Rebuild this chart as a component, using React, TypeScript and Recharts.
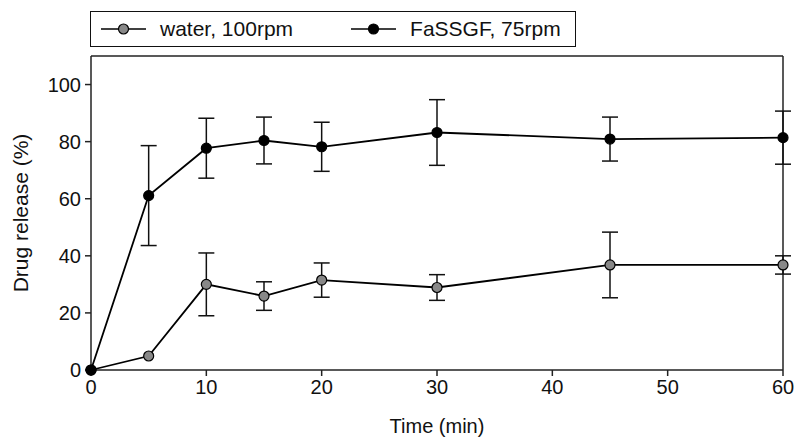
import React from "react"
import {
  LineChart,
  Line,
  XAxis,
  YAxis,
  ErrorBar,
  ReferenceLine,
} from "recharts"

const time = [0, 5, 10, 15, 20, 30, 45, 60]
const water = [0, 4.9, 30, 25.9, 31.5, 28.9, 36.8, 36.8]
const waterErr = [0, 0, 11, 5, 6, 4.5, 11.5, 3.2]
const fassgf = [0, 61.1, 77.7, 80.4, 78.2, 83.2, 80.9, 81.4]
const fassgfErr = [0, 17.5, 10.5, 8.2, 8.6, 11.5, 7.7, 9.3]
const xTicks = [0, 10, 20, 30, 40, 50, 60]
const yTicks = [0, 20, 40, 60, 80, 100]

const data = time.map((t, i) => ({
  time: t,
  water: water[i],
  waterErr: waterErr[i],
  fassgf: fassgf[i],
  fassgfErr: fassgfErr[i],
}))

const FONT = '"Liberation Sans", Arial, sans-serif'
const AXIS = "#222"

const legendItems = [
  { label: "water, 100rpm", fill: "#888" },
  { label: "FaSSGF, 75rpm", fill: "#000" },
]

// legend sits above the plot box, outside the chart layout
const LegendBox = () => (
  <div
    style={{
      position: "absolute",
      left: 90,
      top: 11,
      width: 486,
      height: 36,
      border: "1.5px solid #111",
      display: "flex",
      alignItems: "center",
      boxSizing: "border-box",
      fontFamily: FONT,
      fontSize: 21,
      color: "#111",
    }}
  >
    {legendItems.map((it, i) => (
      <div
        key={it.label}
        style={{
          display: "flex",
          alignItems: "center",
          marginLeft: i === 0 ? 10 : 58,
        }}
      >
        <svg width={45} height={14}>
          <line x1={0} y1={7} x2={45} y2={7} stroke="#000" strokeWidth={1.5} />
          <circle cx={22.5} cy={7} r={5} fill={it.fill} stroke="#000" strokeWidth={1.2} />
        </svg>
        <span style={{ marginLeft: 14 }}>{it.label}</span>
      </div>
    ))}
  </div>
)

export default function App() {
  return (
    <div style={{ position: "absolute", left: 0, top: 0, background: "#fff" }}>
      <LineChart
        width={796}
        height={438}
        data={data}
        margin={{ top: 56, right: 13, left: 0, bottom: 2 }}
      >
        <XAxis
          dataKey="time"
          type="number"
          domain={[0, 60]}
          ticks={xTicks}
          tickSize={6}
          stroke={AXIS}
          strokeWidth={1.5}
          height={66}
          tick={{ fill: "#111", fontSize: 20, fontFamily: FONT }}
          tickMargin={4}
          label={{
            content: ({ viewBox }: any) => (
              <text
                x={viewBox.x + viewBox.width / 2}
                y={viewBox.y + 63}
                textAnchor="middle"
                fontSize={20}
                fontFamily={FONT}
                fill="#111"
              >
                Time (min)
              </text>
            ),
          }}
        />
        <YAxis
          type="number"
          domain={[0, 110]}
          ticks={yTicks}
          tickSize={6}
          width={91}
          stroke={AXIS}
          strokeWidth={1.5}
          tick={{ fill: "#111", fontSize: 20, fontFamily: FONT }}
          tickMargin={4}
          label={{
            content: ({ viewBox }: any) => {
              const cx = 28
              const cy = viewBox.y + viewBox.height / 2
              return (
                <text
                  x={cx}
                  y={cy}
                  transform={`rotate(-90 ${cx} ${cy})`}
                  textAnchor="middle"
                  fontSize={21}
                  fontFamily={FONT}
                  fill="#111"
                >
                  Drug release (%)
                </text>
              )
            },
          }}
        />
        <ReferenceLine y={110} stroke={AXIS} strokeWidth={1.5} />
        <ReferenceLine x={60} stroke={AXIS} strokeWidth={1.5} />
        <Line
          dataKey="water"
          stroke="#000"
          strokeWidth={1.8}
          isAnimationActive={false}
          dot={{ r: 5, fill: "#888", stroke: "#000", strokeWidth: 1.2 }}
          activeDot={false}
        >
          <ErrorBar dataKey="waterErr" width={8} stroke="#111" strokeWidth={1.5} direction="y" />
        </Line>
        <Line
          dataKey="fassgf"
          stroke="#000"
          strokeWidth={1.8}
          isAnimationActive={false}
          dot={{ r: 5, fill: "#000", stroke: "#000", strokeWidth: 1.2 }}
          activeDot={false}
        >
          <ErrorBar dataKey="fassgfErr" width={8} stroke="#111" strokeWidth={1.5} direction="y" />
        </Line>
      </LineChart>
      <LegendBox />
    </div>
  )
}
